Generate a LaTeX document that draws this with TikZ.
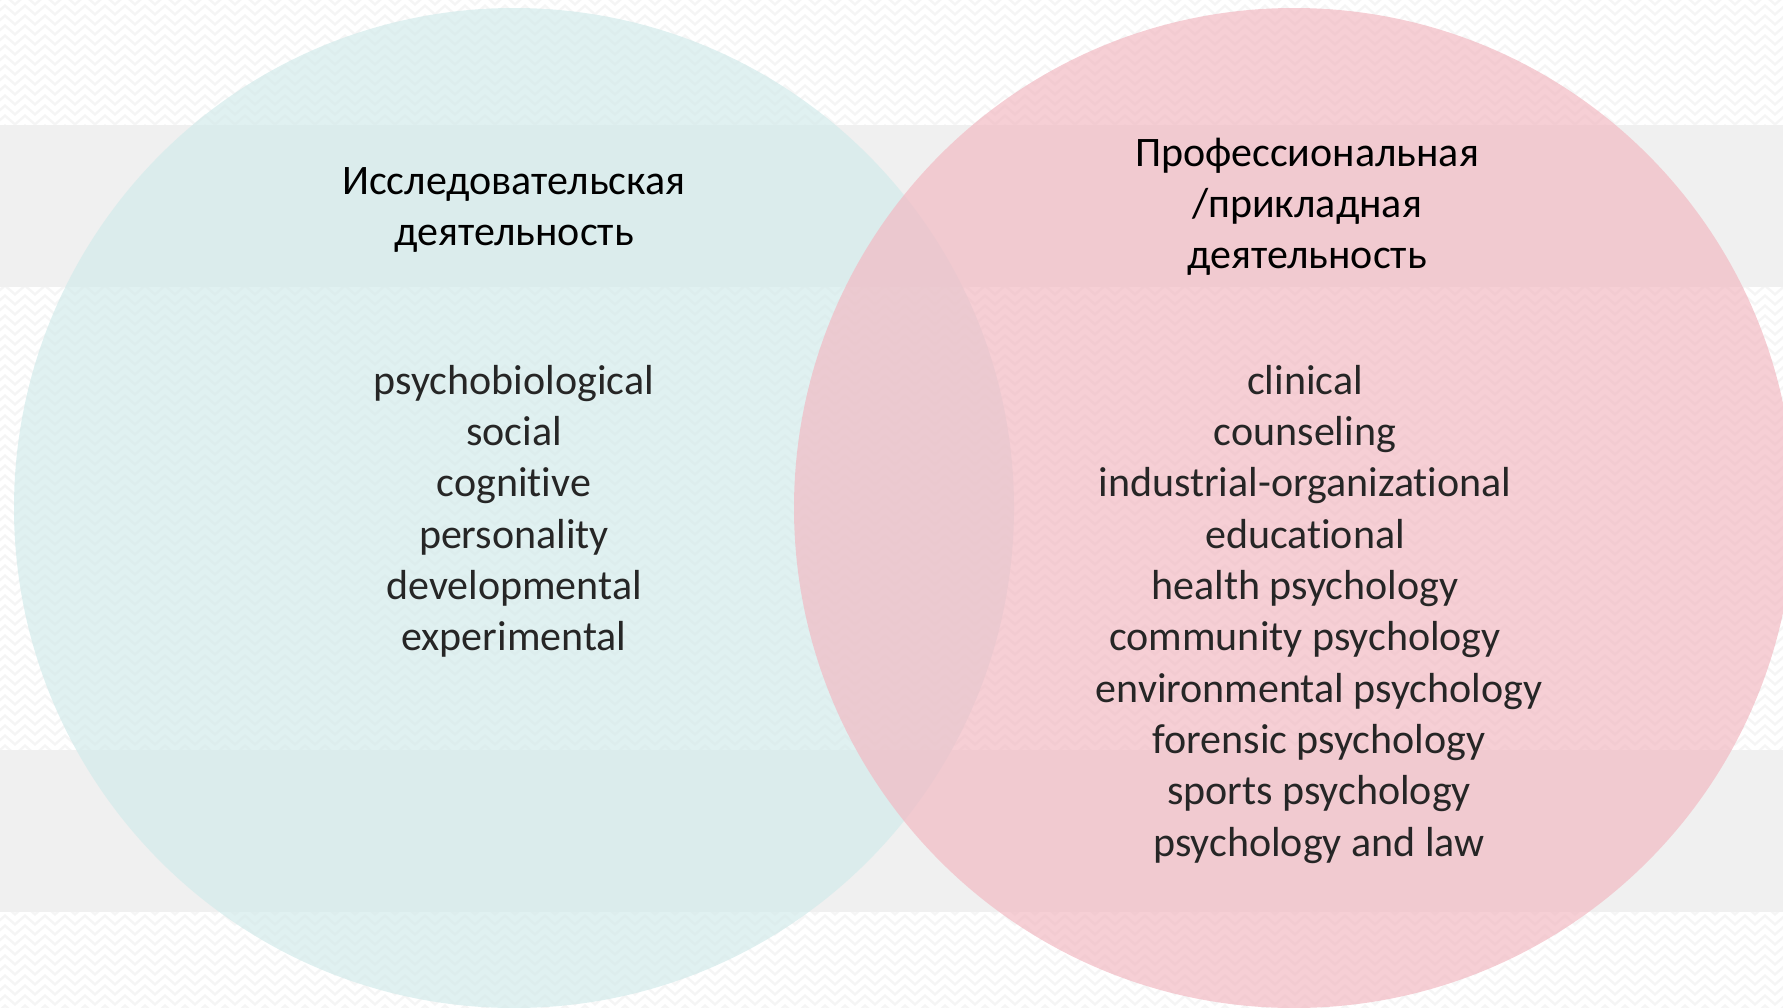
\documentclass[tikz,border=0pt]{standalone}
\usepackage{fontspec}
\setmainfont{Carlito}[Ligatures=NoCommon]
\usetikzlibrary{decorations.pathmorphing}
\definecolor{researchTeal}{RGB}{211,235,235}
\definecolor{appliedPink}{RGB}{242,186,195}
\definecolor{bandGray}{RGB}{240,240,240}
\definecolor{zigGray}{RGB}{245,245,245}
\tikzset{%
  % Specifications for style of nodes:
         base/.style = {align=center, inner sep=0pt,
                        font=\fontsize{21}{25.6}\selectfont},
        title/.style = {base, text=black},
    fieldList/.style = {base, text=black!85},
  % Specifications for the background and the circles:
     zigTrack/.style = {draw=zigGray, line width=1.2pt, decorate,
                        decoration={zigzag, segment length=10pt, amplitude=2.2pt}},
     fieldSet/.style = {fill opacity=0.7, draw=none},
}

\begin{document}
\begin{tikzpicture}[x=0.5pt, y=-0.5pt]
  \useasboundingbox (0,0) rectangle (1783,1007);
  \clip (0,0) rectangle (1783,1007);
  % Background texture and bands
  \foreach \row in {0,10,...,1010}
    \draw[zigTrack] (-20,\row) -- (1810,\row);
  \fill[bandGray] (0,125) rectangle (1783,287);
  \fill[bandGray] (0,750) rectangle (1783,912);

  % Circles of the diagram
  \fill[fieldSet, researchTeal] (514,508) circle [radius=250pt];
  \fill[fieldSet, appliedPink] (1294,508) circle [radius=250pt];

  % Titles
  \node (researchTitle) [title] at (514,210) {Исследовательская\\деятельность};
  \node (appliedTitle) [title] at (1307,207) {Профессиональная\\/прикладная\\деятельность};

  % Lists of fields
  \node (researchList) [fieldList, anchor=north] at (514,365)
    {psychobiological\\social\\cognitive\\personality\\developmental\\experimental};
  \node (appliedListA) [fieldList, anchor=north] at (1305,365)
    {clinical\\counseling\\industrial-organizational\\educational\\health psychology\\community psychology};
  \node (appliedListB) [fieldList, anchor=north] at (1319,673)
    {environmental psychology\\forensic psychology\\sports psychology\\psychology and law};
\end{tikzpicture}
\end{document}
